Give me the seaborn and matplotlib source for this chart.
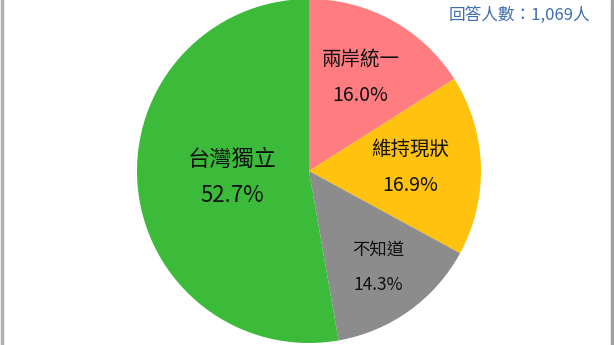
"""
plot.py

Pie chart of independence / unification preference survey.
"""

import matplotlib
matplotlib.use("Agg")
import matplotlib.pyplot as plt
import numpy as np
import seaborn as sns
from matplotlib.lines import Line2D

labels = ["兩岸統一", "維持現狀", "不知道", "台灣獨立"]
shares = [16.0, 16.9, 14.3, 52.7]
colors = ["#FF7C80", "#FFC20E", "#8C8C8C", "#3CBB3A"]
label_dist = [0.62, 0.59, 0.69, 0.45]
label_size = [14, 14, 12.5, 16]
respondents = "回答人數：1,069人"

sns.set_style("white")
plt.rcParams["font.family"] = ["Noto Sans CJK TC", "DejaVu Sans"]

W, H = 614, 345
fig = plt.figure(figsize=(W / 100, H / 100), dpi=100)
cx, cy, r = 309, 174, 172
ax = fig.add_axes([(cx - r) / W, (cy - r) / H, 2 * r / W, 2 * r / H])

wedges, _ = ax.pie(shares, colors=colors, startangle=90, counterclock=False,
                   radius=1, wedgeprops=dict(linewidth=0))
ax.set_xlim(-1, 1)
ax.set_ylim(-1, 1)
ax.set_aspect("equal")
ax.axis("off")

for w, name, pct, d, fs in zip(wedges, labels, shares, label_dist, label_size):
    ang = np.deg2rad((w.theta1 + w.theta2) / 2)
    x, y = d * np.cos(ang), d * np.sin(ang)
    ax.annotate(name, (x, y), xytext=(0, 13), textcoords="offset points",
                ha="center", va="center", fontsize=fs, color="#111111")
    ax.annotate(f"{pct:.1f}%", (x, y), xytext=(0, -13), textcoords="offset points",
                ha="center", va="center", fontsize=fs, color="#111111")

fig.text(590 / W, 1 - 15 / H, respondents, ha="right", va="center",
         fontsize=12, color="#3E6DB5")

# screenshot frame edges
fig.add_artist(Line2D([2 / W, 2 / W], [0, 1], color="#B0B0B0", lw=2.5))
fig.add_artist(Line2D([611.5 / W, 611.5 / W], [0, 1], color="#A0A0A0", lw=2.5))

fig.savefig("out.png", dpi=100)
